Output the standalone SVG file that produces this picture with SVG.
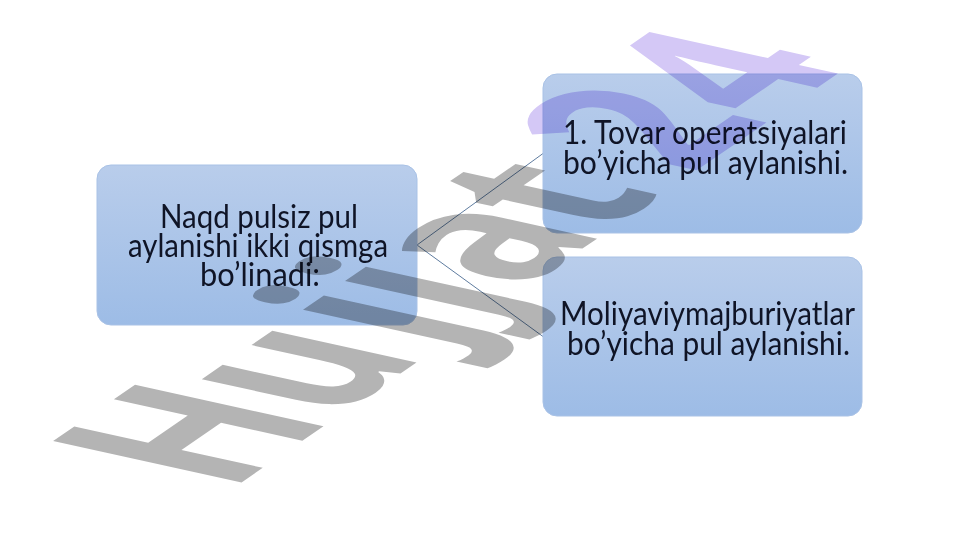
<svg xmlns="http://www.w3.org/2000/svg" width="961" height="540" viewBox="0 0 961 540">
<defs>
<linearGradient id="boxFill" x1="0" y1="0" x2="0" y2="1">
<stop offset="0" stop-color="#b9cdeb"/>
<stop offset="1" stop-color="#9dbce6"/>
</linearGradient>
</defs>
<style>
.box{fill:url(#boxFill);stroke:#a9c2e6;stroke-width:1}
.lbl{font-family:Lato,"Open Sans",sans-serif;font-size:33px;fill:#0f1426}
.conn{stroke:#5f7c9f;stroke-width:1;fill:none}
.wm{font-family:"Open Sans","Liberation Sans",sans-serif;font-weight:700;font-size:100px}
</style>
<rect width="961" height="540" fill="#ffffff"/>
<g id="connectors">
<line class="conn" x1="417" y1="245" x2="543" y2="153.5"/>
<line class="conn" x1="417" y1="245" x2="543" y2="336.5"/>
</g>
<g id="node-root">
<rect class="box" x="97" y="165" width="320" height="160" rx="14"/>
<text class="lbl" x="160" y="228" textLength="198" lengthAdjust="spacingAndGlyphs">Naqd pulsiz pul</text>
<text class="lbl" x="128" y="257" textLength="260" lengthAdjust="spacingAndGlyphs">aylanishi ikki qismga</text>
<text class="lbl" x="200" y="286" textLength="120" lengthAdjust="spacingAndGlyphs">bo’linadi:</text>
</g>
<g id="node-tovar">
<rect class="box" x="543" y="74" width="319" height="159" rx="14"/>
<text class="lbl" x="563" y="144" textLength="284" lengthAdjust="spacingAndGlyphs">1. Tovar operatsiyalari</text>
<text class="lbl" x="563" y="174" textLength="285" lengthAdjust="spacingAndGlyphs">bo’yicha pul aylanishi.</text>
</g>
<g id="node-moliya">
<rect class="box" x="543" y="257" width="319" height="159" rx="14"/>
<text class="lbl" x="560" y="325" textLength="295" lengthAdjust="spacingAndGlyphs">Moliyaviymajburiyatlar</text>
<text class="lbl" x="567" y="355" textLength="283" lengthAdjust="spacingAndGlyphs">bo’yicha pul aylanishi.</text>
</g>
<g id="watermark" style="mix-blend-mode:multiply">
<text class="wm" transform="matrix(1.40,-0.96,2.64,0.58,229,491)"><tspan x="0 76 148 178 210 268" y="0" fill="#b4b4b4">Hujjat</tspan><tspan x="330 388" y="0" fill="#d4c8f6">24</tspan></text>
</g>
</svg>
